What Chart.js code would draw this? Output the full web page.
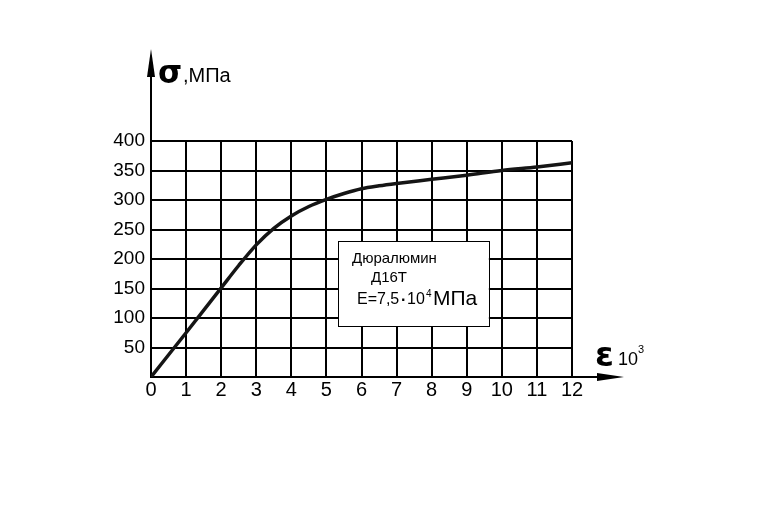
<!DOCTYPE html>
<html lang="ru">
<head>
    <meta charset="utf-8" />
    <title>Дюралюмин Д16Т</title>
    <script src="https://cdn.jsdelivr.net/npm/chart.js"></script>
    <style>
        body { margin: 0; background: #fff; }
        canvas { display: block; }
    </style>
</head>
<body>
    <canvas id="myChart" width="766" height="519"></canvas>
    <script>
        // деформация, x10^3
        var strain = [0, 1, 2, 2.5, 3, 3.5, 4, 4.5, 5, 5.5, 6, 6.5, 7, 8, 9, 10, 11, 12];
        // напряжение, МПа
        var stress = [0, 75, 151, 189, 224, 252, 273, 289, 301, 311, 319, 324, 328, 335, 342, 350, 356, 363];
        var xTicks = [0, 1, 2, 3, 4, 5, 6, 7, 8, 9, 10, 11, 12];
        var yTicks = [50, 100, 150, 200, 250, 300, 350, 400];

        var FONT = "'Liberation Sans', Arial, sans-serif";

        // стрелки осей и подписи
        var decor = {
            id: 'decor',
            afterDraw: function (chart) {
                var c = chart.ctx;
                var a = chart.chartArea;
                var xs = chart.scales.x, ys = chart.scales.y;
                c.save();
                c.fillStyle = '#000';
                c.strokeStyle = '#000';
                c.lineWidth = 2;

                // ось Y со стрелкой
                c.beginPath();
                c.moveTo(a.left, a.top);
                c.lineTo(a.left, 60);
                c.stroke();
                c.beginPath();
                c.moveTo(a.left, 49);
                c.lineTo(a.left - 4, 77);
                c.lineTo(a.left + 4, 77);
                c.closePath();
                c.fill();

                // ось X со стрелкой
                c.beginPath();
                c.moveTo(a.right, a.bottom);
                c.lineTo(610, a.bottom);
                c.stroke();
                c.beginPath();
                c.moveTo(624, a.bottom);
                c.lineTo(597, a.bottom - 4);
                c.lineTo(597, a.bottom + 4);
                c.closePath();
                c.fill();

                c.textBaseline = 'alphabetic';
                c.textAlign = 'left';

                // σ, МПа
                c.font = 'bold 31px "DejaVu Sans"';
                c.fillText('σ', 158, 83);
                c.font = '20px ' + FONT;
                c.fillText(',МПа', 183, 82);

                // ε 10^3
                c.font = 'bold 34px "DejaVu Sans"';
                c.fillText('ε', 595, 366);
                c.font = '18px ' + FONT;
                c.fillText('10', 618, 365);
                c.font = '11px ' + FONT;
                c.fillText('3', 638, 353);

                // рамка с пояснением
                var bx1 = xs.getPixelForValue(5.33), bx2 = xs.getPixelForValue(9.63);
                var by1 = ys.getPixelForValue(230), by2 = ys.getPixelForValue(86);
                c.fillStyle = '#fff';
                c.fillRect(bx1, by1, bx2 - bx1, by2 - by1);
                c.lineWidth = 1;
                c.strokeRect(Math.round(bx1) + 0.5, Math.round(by1) + 0.5, Math.round(bx2 - bx1), Math.round(by2 - by1));
                c.fillStyle = '#000';
                c.font = '15px ' + FONT;
                c.fillText('Дюралюмин', bx1 + 14, by1 + 22);
                c.fillText('Д16Т', bx1 + 33, by1 + 41);
                c.font = '16px ' + FONT;
                c.fillText('E=7,5', bx1 + 19, by1 + 63);
                c.font = 'bold 16px ' + FONT;
                c.fillText('·', bx1 + 63, by1 + 64);
                c.font = '16px ' + FONT;
                c.fillText('10', bx1 + 69, by1 + 63);
                c.font = '10px ' + FONT;
                c.fillText('4', bx1 + 88, by1 + 56);
                c.font = '21px ' + FONT;
                c.fillText('МПа', bx1 + 95, by1 + 64);

                c.restore();
            }
        };

        var ctx = document.getElementById('myChart').getContext('2d');
        new Chart(ctx, {
            type: 'line',
            data: {
                datasets: [{
                    data: strain.map(function (x, i) { return { x: x, y: stress[i] }; }),
                    borderColor: '#151515',
                    borderWidth: 3.5,
                    pointRadius: 0,
                    fill: false,
                    cubicInterpolationMode: 'monotone'
                }]
            },
            options: {
                responsive: false,
                animation: false,
                layout: { padding: { left: 0, top: 141, right: 194, bottom: 0 } },
                plugins: { legend: { display: false }, tooltip: { enabled: false } },
                scales: {
                    x: {
                        type: 'linear',
                        min: 0,
                        max: 12,
                        afterFit: function (s) { s.height = 142; },
                        afterBuildTicks: function (s) {
                            s.ticks = xTicks.map(function (v) { return { value: v }; });
                        },
                        grid: { color: '#000', lineWidth: 2, drawTicks: false },
                        border: { color: '#000', width: 2 },
                        ticks: {
                            color: '#000',
                            padding: 1,
                            font: { size: 20, family: FONT },
                            maxRotation: 0,
                            autoSkip: false
                        }
                    },
                    y: {
                        min: 0,
                        max: 400,
                        afterFit: function (s) { s.width = 151; },
                        afterBuildTicks: function (s) {
                            s.ticks = [0].concat(yTicks).map(function (v) { return { value: v }; });
                        },
                        grid: { color: '#000', lineWidth: 2, drawTicks: false },
                        border: { color: '#000', width: 2 },
                        ticks: {
                            color: '#000',
                            padding: 6,
                            font: { size: 19, family: FONT },
                            callback: function (v) { return v === 0 ? '' : v; }
                        }
                    }
                }
            },
            plugins: [decor]
        });
    </script>
</body>
</html>
